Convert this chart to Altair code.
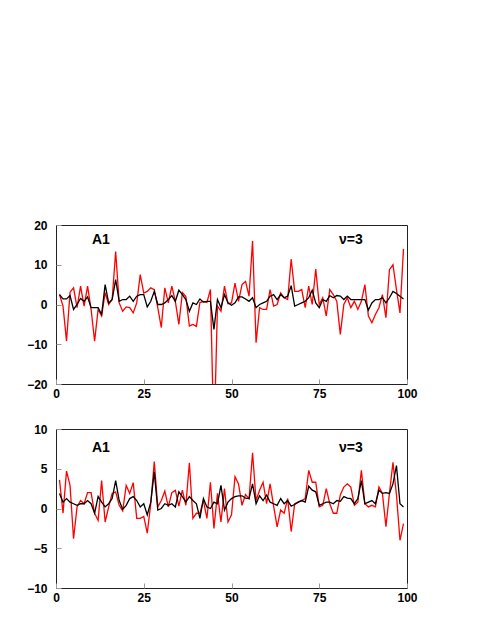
import altair as alt
import pandas as pd

x_vals = list(range(1, 100))

top_black = [2.5, 1.4, 1.4, 2.25, -1.25, 0, 1.5, 0.8, 1.9, -0.8,
             -0.8, -0.8, -2.5, 5, 0.4, 1.25, 6.25, 0.8, 1.25, 1.25,
             2.1, 0.8, 2.1, 2.5, 2.5, -0.6, 0.8, 3.3, 0, 0,
             0.4, 1.25, 2.25, 0.8, 3.6, 2.5, 1.25, -1.7, 0.4, 0,
             1.4, 0.6, 0.8, 0.8, -6.25, 1.25, -0.8, 2.5, 0.4, -0.2,
             0.4, 1.9, 1.9, 1.4, 0.8, 1.7, -0.8, 0, 0.4, 0.8,
             2.1, 2.5, 1.25, 2.5, 1.7, 2.1, 4.75, -0.4, 0, 0.4,
             0.8, 1.7, 3.6, 0.4, -0.8, 1.25, 0.8, 2.25, 1.7, 2.25,
             2.1, 1.25, 2.1, 1.25, 1.25, 1.25, 1.25, 1.25, -1.4, 0.4,
             1.25, 1.25, 1.7, 0.4, 1.7, 3.3, 2.75, 2.1, 1.4]

top_red = [2.5, -0.4, -9.2, 3.1, 4.2, -0.8, 4.6, -0.4, 4.6, -1.25,
           -9.2, -1.25, -2.9, 3.0, 0, 1.25, 13.3, 0.4, -1.7, -0.6,
           -0.8, -2.1, 0.4, 7.5, 2.9, 3.3, 4.2, 3.75, -0.8, -5.8,
           4.2, 0.4, 4.6, 0.8, -5.0, 3.0, 2.0, -5.4, -5.0, -5.5,
           0.5, 0.8, 0.5, 3.8, -35, -0.4, -1.7, 4.6, 0.2, 0.4,
           5.4, 0.8, 5.0, 5.8, 2.1, 16, -9.6, -0.8, -1.25, -1.25,
           3.75, -0.4, 0, 2.9, 1.7, 1.25, 11.4, 3.3, 3.3, 3.75,
           -0.8, 4.6, 0, 8.9, 0, 1.7, -2.9, 3.75, 2.5, 0.8,
           -7.5, 0, 1.7, -0.8, 0.8, -1.25, 0.8, 5.0, -2.9, -4.6,
           -2.5, -0.8, 2.5, -3.3, 8.75, 10, 3.75, -2.1, 14]

bot_black = [1.9, 0.8, 1.25, 0.8, 0.6, 0.4, 0.6, 0.6, 1.0, 0.6,
             -0.6, 1.5, 0.8, 0.2, 0.6, 1.25, 3.5, 1.0, -0.1, 0.4,
             1.25, 1.5, 1.0, 0.2, 0.6, -0.8, 0.8, 4.6, -0.2, 0,
             0.6, 0.4, 0.6, 0.2, 2.1, 1.5, 0.8, 1.5, 1.0, 0.6,
             -1.25, 1.25, 0.2, 0, 0.8, 0.6, 2.9, -0.2, 0.8, 1.25,
             1.5, 1.6, 1.6, 1.3, 1.25, 3.1, 0.6, 1.6, 1.0, 1.7,
             0.8, 0.6, 0.4, 1.25, 0.6, 1.0, 0.3, 0.5, 0.8, 1.0,
             0.8, 2.8, 2.3, 2.1, 0.4, 0.6, 0.8, 0.8, 0.6, 1.0,
             0.9, 1.5, 1.3, 1.25, 0.6, 1.25, 3.5, 0.6, 0.8, 1.0,
             0.6, 2.3, 1.9, 2.0, 1.9, 3.1, 5.4, 0.6, 0.2]

bot_red = [3.6, -0.6, 4.7, 2.9, -3.8, 0.2, 1.0, 0.6, 2.0, 2.0,
           -0.6, -1.5, 3.5, -1.7, 0.2, 1.9, 2.1, 0.4, -0.3, 2.9,
           1.9, 3.25, -1.25, -1.25, -1.0, -3.1, 0.6, 5.9, 0.2, 1.0,
           2.2, 0.2, 2.0, 2.3, 0.3, 2.3, 0.4, 5.75, -1.25, -0.6,
           -0.6, 1.0, -1.25, 3.3, -2.5, 1.9, -1.7, 2.5, -1.7, -0.8,
           4.0, 3.1, 0.4, 1.75, 1.25, 7.0, 1.0, 2.3, 3.3, 0.6,
           3.1, 0.3, -2.3, -0.2, -0.6, 1.25, -2.9, 0.6, 0.8, 1.0,
           1.25, 4.8, 3.3, 3.3, 0.2, 0.4, 2.5, 0.6, -0.6, -0.6,
           1.7, 2.7, 3.1, 2.7, 0.4, 0.8, 4.8, 0.6, 0.2, 0.4,
           0.2, 2.7, 1.9, -2.3, 1.9, 5.8, 1.7, -4.0, -1.9]

x_ticks = [0, 25, 50, 75, 100]
top_y_ticks = [-20, -10, 0, 10, 20]
bot_y_ticks = [-10, -5, 0, 5, 10]
top_domain = [-20, 20]
bot_domain = [-10, 10]
panel_labels = ["A1", "ν=3"]
panel_label_x = [12.8, 84.0]
top_label_y = 16.2
bot_label_y = 7.6

FONT = "Liberation Sans"


def axis(values, pad):
    return alt.Axis(values=values, grid=False, domain=False, offset=-5,
                    tickSize=5, tickColor="#999999", tickWidth=1,
                    labelFont=FONT, labelFontSize=12, labelFontWeight="bold",
                    labelColor="#000000", labelFlush=False, labelOverlap=False,
                    labelPadding=pad, title=None)


def panel(black, red, domain, yticks, label_y):
    df = pd.DataFrame({"x": x_vals, "black": black, "red": red})
    xs = alt.Scale(domain=[0, 100], nice=False, zero=False)
    ys = alt.Scale(domain=domain, nice=False, zero=False)
    xenc = alt.X("x:Q", scale=xs, axis=axis(x_ticks, 4))
    base = alt.Chart(df)
    red_line = base.mark_line(color="#ff0000", strokeWidth=1.3, clip=True).encode(
        x=xenc,
        y=alt.Y("red:Q", scale=ys, axis=axis(yticks, 9)),
    )
    black_line = base.mark_line(color="#000000", strokeWidth=1.3, clip=True).encode(
        x=xenc,
        y=alt.Y("black:Q", scale=ys, axis=axis(yticks, 9)),
    )
    tdf = pd.DataFrame({"x": panel_label_x, "y": [label_y] * 2, "t": panel_labels})
    text = alt.Chart(tdf).mark_text(font=FONT, fontSize=14, fontWeight="bold",
                                    color="#000000", align="center",
                                    baseline="middle").encode(
        x=xenc, y=alt.Y("y:Q", scale=ys, axis=axis(yticks, 9)), text="t:N")
    return alt.layer(red_line, black_line, text).properties(width=351, height=159)


top = panel(top_black, top_red, top_domain, top_y_ticks, top_label_y)
bottom = panel(bot_black, bot_red, bot_domain, bot_y_ticks, bot_label_y)

chart = alt.vconcat(top, bottom, spacing=22).properties(
    padding={"left": 18, "top": 210, "right": 5, "bottom": 5},
    background="#ffffff",
).configure_view(stroke="#222222", strokeWidth=1)

chart.save("out.html", embed_options={"renderer": "svg", "actions": False})
